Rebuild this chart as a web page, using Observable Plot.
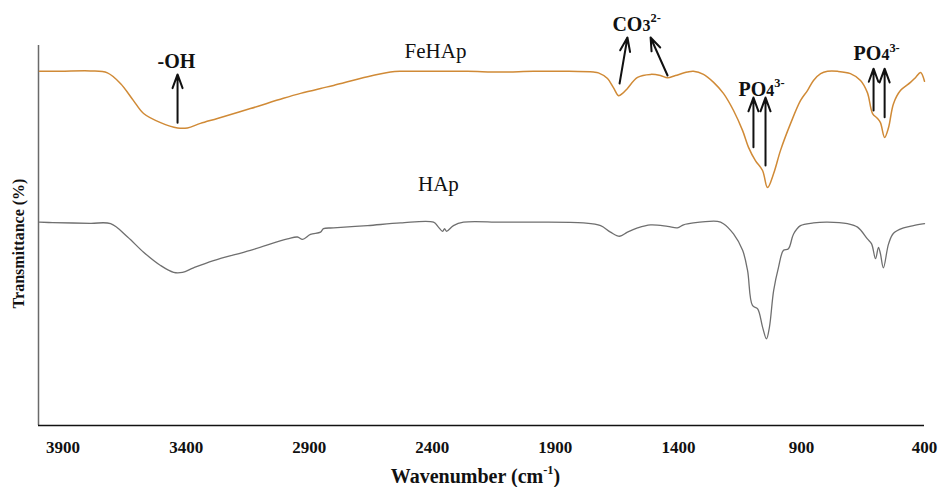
<!DOCTYPE html>
<html><head><meta charset="utf-8">
<script src="https://cdn.jsdelivr.net/npm/d3@7"></script>
<script src="https://cdn.jsdelivr.net/npm/@observablehq/plot@0.6"></script>
<style>
body{margin:0;background:#fff}
svg{display:block}
#chart svg text{font-family:'Liberation Serif','Times New Roman','DejaVu Serif',serif}
</style>
</head><body><div id="chart"></div>
<script>
// X ticks (wavenumber, cm-1)
const xTicks = [3900, 3400, 2900, 2400, 1900, 1400, 900, 400];
const xDomain = [4000, 400];
const yDomain = [0, 100];

// FeHAp spectrum
const feWave = [3996,3911,3789,3720,3667,3614,3573,3504,3435,3395,3342,3273,3139,3005,2935,2854,2801,2663,2570,2529,2395,2257,2123,1989,1850,1745,1725,1688,1664,1643,1627,1607,1566,1513,1473,1444,1412,1363,1339,1298,1257,1217,1176,1139,1115,1087,1058,1038,1013,985,944,904,875,851,822,794,753,701,660,632,611,591,579,562,546,526,497,457,436,416,400];
const feT = [93.2,93.2,93.3,92.8,90.0,85.5,82.1,79.7,78.3,78.3,79.5,80.8,83.4,86.1,87.4,88.7,89.5,91.8,93.0,93.2,93.2,93.2,93.0,93.2,93.2,93.0,92.8,91.3,88.9,86.8,87.4,88.7,91.6,92.4,92.1,91.5,92.1,93.0,93.2,92.4,90.3,87.4,82.9,77.6,73.2,69.7,67.1,62.6,66.3,72.4,79.5,85.5,88.2,90.8,92.6,93.2,93.2,92.6,90.8,87.6,82.1,80.8,79.7,75.8,78.4,84.7,88.2,90.3,91.6,92.9,90.6];

// HAp spectrum
const haWave = [3996,3943,3789,3707,3638,3573,3504,3451,3415,3370,3289,3139,2988,2948,2927,2895,2854,2842,2801,2663,2529,2395,2375,2358,2350,2342,2314,2273,2123,1989,1786,1716,1676,1639,1607,1566,1513,1444,1404,1379,1339,1241,1217,1176,1139,1119,1099,1078,1058,1042,1030,1013,993,973,953,932,904,851,794,713,672,632,615,599,587,579,567,546,526,485,445,400];
const haT = [53.5,53.4,53.2,53.1,49.6,45.6,42.1,40.3,40.3,41.5,43.4,46.1,49.1,49.6,49.0,50.3,50.9,51.8,52.0,52.6,53.3,53.5,52.2,51.1,51.8,51.1,52.6,53.5,53.5,53.5,53.3,52.6,50.9,49.8,50.9,52.0,52.8,52.4,52.0,52.8,53.3,53.7,53.1,50.4,46.1,40.8,31.6,30.7,25.9,22.8,25.9,35.5,41.7,46.1,46.5,50.4,52.6,53.3,53.5,53.1,52.2,49.1,47.8,43.9,46.9,45.2,41.5,47.8,50.6,52.0,52.6,53.1];

// Series labels
const seriesNames = ["FeHAp", "HAp"];
const seriesLabelWave = [2387, 2375];
const seriesLabelT = [96.8, 61.8];

// Band annotations (text starts at given wavenumber)
const annText = ["-OH", "CO_{3}^{2-}", "PO_{4}^{3-}", "PO_{4}^{3-}"];
const annWave = [3516, 1668, 1156, 688];
const annT = [94.0, 103.9, 86.8, 96.1];

// Arrows (tail -> head)
const arrWave1 = [3435, 1639, 1444, 1095, 1046, 607, 562];
const arrT1 = [79.7, 90.0, 92.1, 73.2, 68.4, 82.9, 81.1];
const arrWave2 = [3435, 1607, 1513, 1095, 1046, 607, 562];
const arrT2 = [92.4, 102.1, 102.1, 86.3, 86.3, 93.9, 93.9];

const fe = feWave.map((w, i) => ({w, t: feT[i]}));
const ha = haWave.map((w, i) => ({w, t: haT[i]}));
const seriesLabels = seriesNames.map((s, i) => ({s, w: seriesLabelWave[i], t: seriesLabelT[i]}));
const anns = annText.map((s, i) => ({s, w: annWave[i], t: annT[i]}));
const arrows = arrWave1.map((w, i) => ({w1: w, t1: arrT1[i], w2: arrWave2[i], t2: arrT2[i]}));

const serif = "'Liberation Serif', 'Times New Roman', 'DejaVu Serif', serif";

const chart = Plot.plot({
  width: 938,
  height: 487,
  marginLeft: 38,
  marginRight: 14,
  marginTop: 45,
  marginBottom: 62,
  style: {fontFamily: serif, fontSize: "17px", fontWeight: "bold", background: "#fff", color: "#111", overflow: "visible"},
  x: {domain: xDomain, ticks: xTicks, tickFormat: d => String(d), tickSize: 0, tickPadding: 15, label: null},
  y: {domain: yDomain, axis: null},
  marks: [
    Plot.ruleX([xDomain[0]], {y1: yDomain[0], y2: yDomain[1], stroke: "#6a6a6a", strokeWidth: 1.5}),
    Plot.ruleY([yDomain[0]], {stroke: "#111", strokeWidth: 1.6}),
    Plot.line(ha, {x: "w", y: "t", stroke: "#6f6f6f", strokeWidth: 1.3, curve: "catmull-rom"}),
    Plot.line(fe, {x: "w", y: "t", stroke: "#d08a36", strokeWidth: 1.5, curve: "catmull-rom"}),
    Plot.text(seriesLabels, {x: "w", y: "t", text: "s", fontSize: 21, fontWeight: "normal", textAnchor: "middle", lineAnchor: "bottom", fill: "#111"}),
    Plot.text(anns, {x: "w", y: "t", text: "s", fontSize: 20, fontWeight: "bold", textAnchor: "start", lineAnchor: "bottom", fill: "#111"}),
    Plot.arrow(arrows, {x1: "w1", y1: "t1", x2: "w2", y2: "t2", stroke: "#111", strokeWidth: 2, headLength: 11, headAngle: 40}),
    Plot.text(["Transmittance (%)"], {frameAnchor: "left", rotate: -90, dx: -20, dy: 8, fontSize: 16, fontWeight: "bold", textAnchor: "middle", lineAnchor: "middle", fill: "#111"}),
    Plot.text(["Wavenumber (cm^{-1})"], {frameAnchor: "bottom", dx: -6, dy: 57, fontSize: 20, fontWeight: "bold", textAnchor: "middle", lineAnchor: "bottom", fill: "#111"})
  ]
});

document.getElementById("chart").appendChild(chart);

// rich text: _{..} smaller on baseline, ^{..} superscript
chart.querySelectorAll("text").forEach(el => {
  const s = el.textContent;
  if (!/[\^_]\{/.test(s)) return;
  const fs = parseFloat(getComputedStyle(el).fontSize) || 20;
  while (el.firstChild) el.removeChild(el.firstChild);
  const parts = s.split(/([\^_]\{[^}]*\})/).filter(p => p);
  let cur = 0;
  for (const p of parts) {
    const t = document.createElementNS("http://www.w3.org/2000/svg", "tspan");
    let target = 0, size = null, txt = p;
    if (p.startsWith("^{")) { txt = p.slice(2, -1); target = -0.42 * fs; size = 0.62 * fs; }
    else if (p.startsWith("_{")) { txt = p.slice(2, -1); target = 0; size = 0.8 * fs; }
    if (size) t.setAttribute("font-size", size);
    if (target !== cur) { t.setAttribute("dy", target - cur); cur = target; }
    t.textContent = txt;
    el.appendChild(t);
  }
});
</script>
</body></html>
